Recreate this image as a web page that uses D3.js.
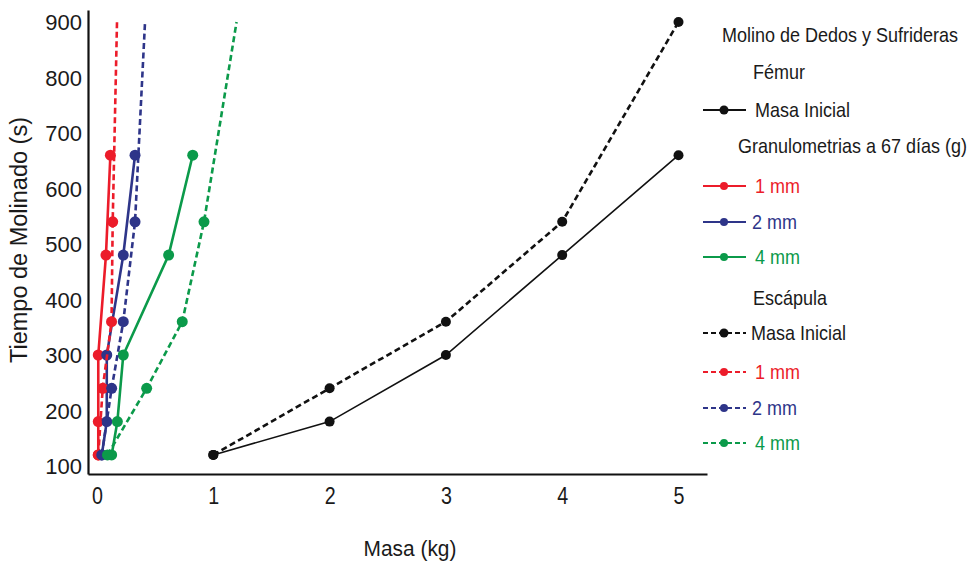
<!DOCTYPE html>
<html>
<head>
<meta charset="utf-8">
<script src="https://cdn.jsdelivr.net/npm/d3@7"></script>
<style>
  html, body { margin: 0; padding: 0; background: #ffffff; }
  svg { display: block; }
  text { font-family: "Liberation Sans", Arial, sans-serif; }
</style>
</head>
<body>
<svg id="chart" width="972" height="563"></svg>
<script>
// ---- data ----
const timesFemur = [120, 180, 300, 480, 660];
const timesEscapula = [120, 240, 360, 540, 900];
const masaFemur = [1, 2, 3, 4, 5];
const femur1mm = [0.011, 0.011, 0.011, 0.077, 0.115];
const femur2mm = [0.041, 0.084, 0.084, 0.226, 0.327];
const femur4mm = [0.126, 0.175, 0.226, 0.616, 0.823];
const masaEscapula = [1, 2, 3, 4, 5];
const escapula1mm = [0.011, 0.049, 0.125, 0.135, 0.172];
const escapula2mm = [0.041, 0.126, 0.226, 0.327, 0.413];
const escapula4mm = [0.09, 0.427, 0.733, 0.92, 1.2];
const xTicks = [0, 1, 2, 3, 4, 5];
const yTicks = [100, 200, 300, 400, 500, 600, 700, 800, 900];
const legendTitle = "Molino de Dedos y Sufrideras";
const legendFemur = "Fémur";
const legendGran = "Granulometrias a 67 días (g)";
const legendEscapula = "Escápula";
const xTitle = "Masa (kg)";
const yTitle = "Tiempo de Molinado (s)";

const RED = "#ec1c2a", BLUE = "#2e3589", GREEN = "#0b9a4a", BLACK = "#111111";
const SX = 0.9; // condensed look

const series = [
  { name: "Masa Inicial", x: masaFemur, t: timesFemur, color: BLACK, dashed: false, markLast: true },
  { name: " 1 mm", x: femur1mm, t: timesFemur, color: RED, dashed: false, markLast: true },
  { name: "2 mm", x: femur2mm, t: timesFemur, color: BLUE, dashed: false, markLast: true },
  { name: "4 mm", x: femur4mm, t: timesFemur, color: GREEN, dashed: false, markLast: true },
  { name: "Masa Inicial", x: masaEscapula, t: timesEscapula, color: BLACK, dashed: true, markLast: true },
  { name: " 1 mm", x: escapula1mm, t: timesEscapula, color: RED, dashed: true, markLast: false },
  { name: "2 mm", x: escapula2mm, t: timesEscapula, color: BLUE, dashed: true, markLast: false },
  { name: "4 mm", x: escapula4mm, t: timesEscapula, color: GREEN, dashed: true, markLast: false }
];

const svg = d3.select("#chart");

const x = d3.scaleLinear().domain([-0.0774, 5.245]).range([88, 707]);
const y = d3.scaleLinear().domain([85.6, 921.6]).range([474, 10]);

// axes
const xAxis = d3.axisBottom(x).tickValues(xTicks).tickSize(0).tickPadding(13).tickFormat(d3.format("d"));
const yAxis = d3.axisLeft(y).tickValues(yTicks).tickSize(0).tickPadding(6).tickFormat(d3.format("d"));

const gx = svg.append("g").attr("transform", "translate(0,474)").call(xAxis);
const gy = svg.append("g").attr("transform", "translate(88,0)").call(yAxis);
[gx, gy].forEach(g => {
  g.select(".domain").attr("stroke", BLACK).attr("stroke-width", 2.2);
  g.selectAll("text").attr("fill", "#1a1a1a");
});
gy.selectAll(".tick text").attr("dy", "0.36em").style("font-size", "22px");
gx.selectAll(".tick text").style("font-size", "24px").attr("transform", "scale(0.82,1)");

svg.append("text").attr("transform", "translate(410,556) scale(0.95,1)").attr("text-anchor", "middle")
  .attr("fill", "#1a1a1a").style("font-size", "22px").text(xTitle);
svg.append("text").attr("transform", "translate(27,240) rotate(-90)").attr("text-anchor", "middle")
  .attr("fill", "#1a1a1a").style("font-size", "23.5px").text(yTitle);

// lines
const line = d3.line().x(d => x(d[0])).y(d => y(d[1]));
const plot = svg.append("g");
series.forEach(s => {
  const pts = s.x.map((v, i) => [v, s.t[i]]);
  const isBlack = s.color === BLACK;
  plot.append("path").datum(pts)
    .attr("d", line)
    .attr("fill", "none")
    .attr("stroke", s.color)
    .attr("stroke-width", isBlack ? (s.dashed ? 2.6 : 1.6) : 2.6)
    .attr("stroke-dasharray", s.dashed ? "6,3.5" : null);
  const marked = s.markLast ? pts : pts.slice(0, pts.length - 1);
  plot.selectAll(null).data(marked).enter().append("circle")
    .attr("cx", d => x(d[0])).attr("cy", d => y(d[1]))
    .attr("r", isBlack ? 5 : 5.5)
    .attr("fill", s.color);
});

// legend
const lg = svg.append("g");
function ltext(txt, xx, yy, color) {
  lg.append("text").attr("transform", `translate(${xx},${yy}) scale(${SX},1)`).attr("dy", "0.35em")
    .attr("fill", color).style("font-size", "20px").text(txt);
}
function header(txt, xx, yy) { ltext(txt, xx, yy, "#1a1a1a"); }
function item(s, yy, tx) {
  lg.append("line").attr("x1", 703).attr("x2", 746).attr("y1", yy).attr("y2", yy)
    .attr("stroke", s.color).attr("stroke-width", 2.2)
    .attr("stroke-dasharray", s.dashed ? "5,3" : null);
  lg.append("circle").attr("cx", 724).attr("cy", yy).attr("r", s.color === BLACK ? 4.5 : 4).attr("fill", s.color);
  ltext(s.name, tx, yy, s.color === BLACK ? "#1a1a1a" : s.color);
}
header(legendTitle, 722, 35);
header(legendFemur, 753, 72);
item(series[0], 110, 755);
header(legendGran, 738, 146);
item(series[1], 186, 755);
item(series[2], 222, 752);
item(series[3], 257, 755);
header(legendEscapula, 753, 298);
item(series[4], 333, 751);
item(series[5], 372, 755);
item(series[6], 408, 752);
item(series[7], 443, 755);
</script>
</body>
</html>
